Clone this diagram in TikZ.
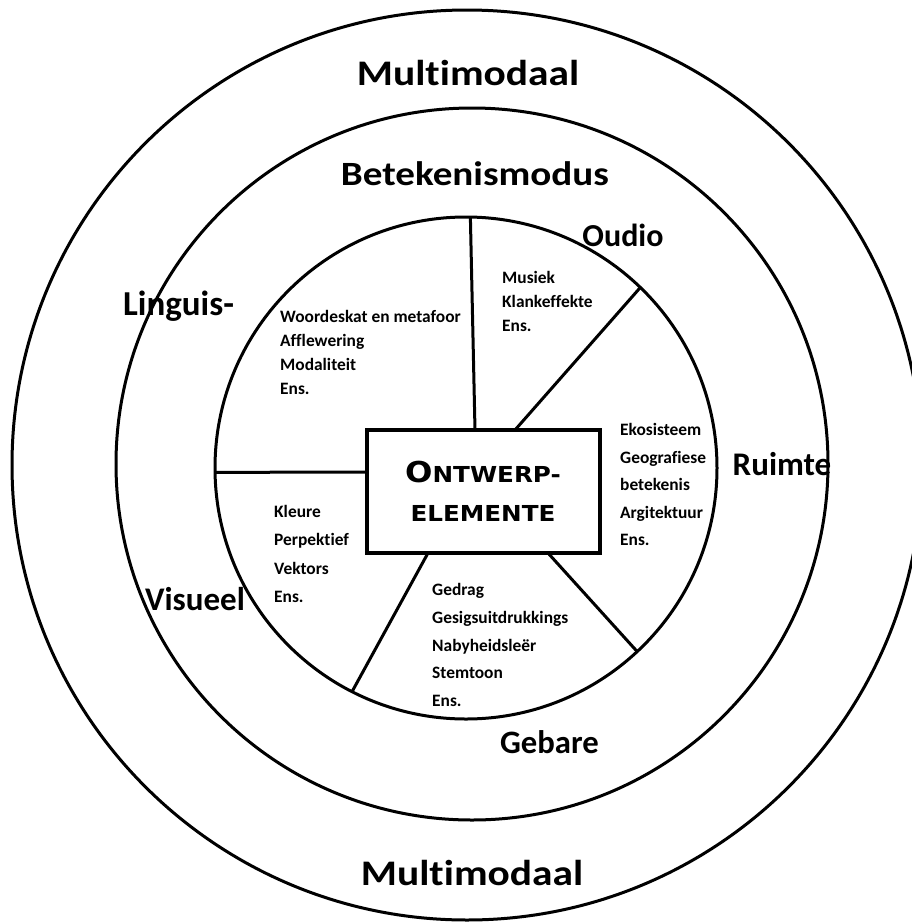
\documentclass[tikz,border=0pt]{standalone}
\usepackage{fontspec}
\newfontfamily\labfont[Ligatures={NoCommon}]{Carlito}
\newfontfamily\widefont[FakeStretch=1.15,Ligatures={NoCommon}]{Carlito}
\newfontfamily\itemfont[Ligatures={NoCommon}]{Carlito}
\newfontfamily\boxfont[FakeStretch=1.12]{DejaVu Sans}
\begin{document}
\begin{tikzpicture}[x=1pt,y=-1pt,
  ring/.style={circle, draw, line width=3pt, inner sep=0pt, outer sep=0pt},
  divider/.style={draw, line width=3pt},
  lab/.style={anchor=base, inner sep=0pt},
  item/.style={anchor=base west, inner sep=0pt, font=\itemfont\bfseries\fontsize{17.4}{20}\selectfont},
  boxtxt/.style={anchor=base, inner sep=0pt, font=\boxfont\bfseries}
]
\useasboundingbox (0,0) rectangle (912,922);
\clip (0,0) rectangle (912,922);
\fill[white] (0,0) rectangle (912,922);
% rings
\node[ring, minimum size=910] (outer) at (467,465) {};
\node[ring, minimum size=712] (middle) at (472,464) {};
\node[ring, minimum size=502] (inner) at (466,468) {};
% centre box
\node[draw, line width=3.5pt, minimum width=233, minimum height=123, inner sep=0pt, outer sep=0pt] (box) at (483.5,491.5) {};
% dividers
\draw[divider] (inner.89) -- ([xshift=-8.5pt]box.north);
\draw[divider] (inner.46) -- ([xshift=31.5pt]box.north);
\draw[divider] ([xshift=64.5pt]box.south) -- (inner.-47);
\draw[divider] ([xshift=-55.5pt]box.south) -- (inner.-117);
\draw[divider] (inner.181) -- ([yshift=19.5pt]box.west);
% box text
\node[boxtxt] (t1) at (483,482) {\fontsize{28.8}{30}\selectfont O\fontsize{22}{24}\selectfont NTWERP-};
\node[boxtxt] (t2) at (483,521) {\fontsize{22}{24}\selectfont ELEMENTE};
% ring labels
\node[lab, font=\widefont\bfseries\fontsize{36}{38}\selectfont] (mmtop) at (468,85) {Multimodaal};
\node[lab, font=\widefont\bfseries\fontsize{36}{38}\selectfont] (mmbot) at (472,885) {Multimodaal};
\node[lab, font=\widefont\bfseries\fontsize{34}{36}\selectfont] (bet) at (475,185) {Betekenismodus};
\node[lab, font=\labfont\bfseries\fontsize{32}{34}\selectfont] (oud) at (623,246) {Oudio};
\node[lab, font=\labfont\bfseries\fontsize{35}{37}\selectfont] (lin) at (178.5,315) {Linguis-};
\node[lab, font=\labfont\bfseries\fontsize{33}{35}\selectfont] (rui) at (782,475) {Ruimte};
\node[lab, font=\labfont\bfseries\fontsize{33}{35}\selectfont] (vis) at (195,610) {Visueel};
\node[lab, font=\labfont\bfseries\fontsize{32.7}{35}\selectfont] (geb) at (549.5,753) {Gebare};
% item lists
\foreach \t [count=\i from 0] in {Woordeskat en metafoor, Afflewering, Modaliteit, Ens.}
  \node[item] (wo\i) at (280,{322.5+24*\i}) {\t};
\foreach \t [count=\i from 0] in {Musiek, Klankeffekte, Ens.}
  \node[item] (mu\i) at (502,{283.5+24*\i}) {\t};
\foreach \t [count=\i from 0] in {Ekosisteem, Geografiese, betekenis, Argitektuur, Ens.}
  \node[item] (ek\i) at (620,{435.5+27.5*\i}) {\t};
\foreach \t [count=\i from 0] in {Kleure, Perpektief, Vektors, Ens.}
  \node[item] (kl\i) at (274,{517.5+28.3*\i}) {\t};
\foreach \t [count=\i from 0] in {Gedrag, Gesigsuitdrukkings, Nabyheidsleër, Stemtoon, Ens.}
  \node[item] (ge\i) at (432,{595.5+27.8*\i}) {\t};
\end{tikzpicture}
\end{document}
